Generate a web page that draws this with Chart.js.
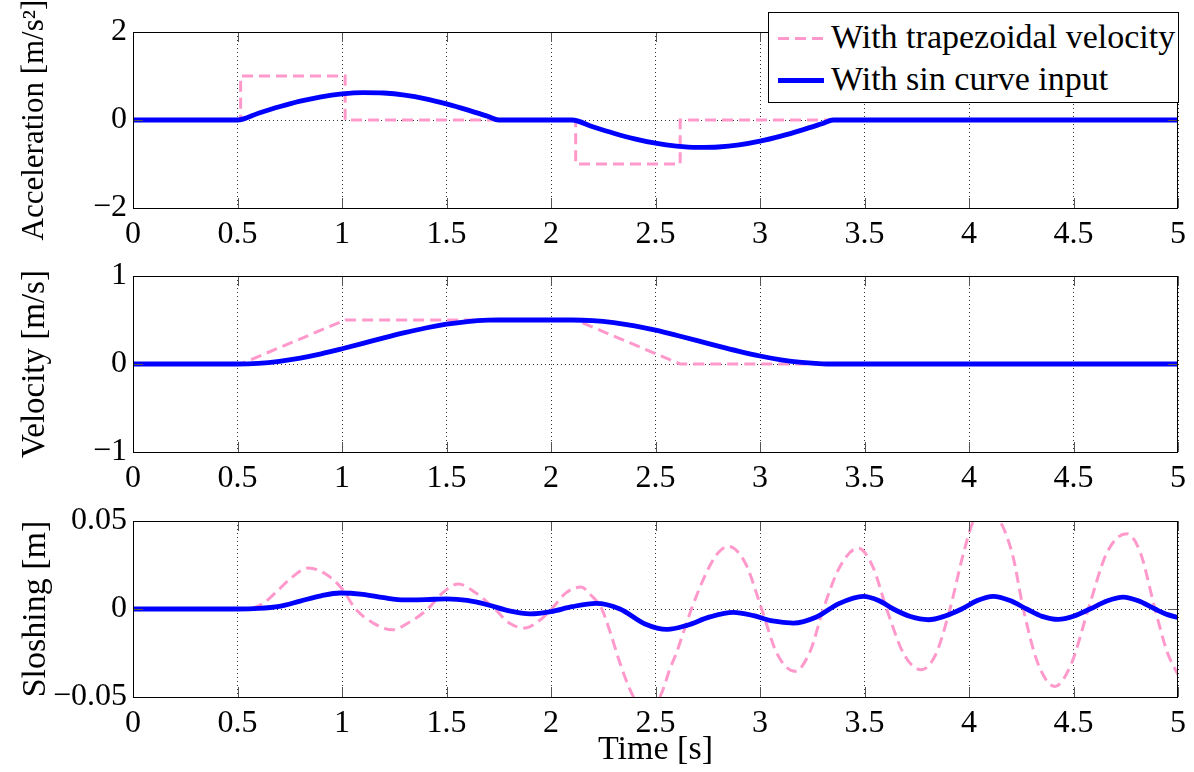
<!DOCTYPE html>
<html>
<head>
<meta charset="utf-8">
<script src="https://cdn.jsdelivr.net/npm/chart.js@4.4.0/dist/chart.umd.min.js"></script>
<style>
  html, body { margin: 0; padding: 0; background: #fff; }
  body { width: 1194px; height: 772px; position: relative; overflow: hidden; font-family: "Liberation Serif", "Times New Roman", serif; }
  .pane { position: absolute; left: 0; width: 1194px; }
  #legend { position: absolute; left: 768px; top: 12px; width: 409px; height: 89px; border: 1px solid #000; background: #fff; }
  .row { position: absolute; left: 0; height: 40px; line-height: 40px; font-size: 34px; color: #000; white-space: nowrap; }
  .txt { position: absolute; left: 62px; top: 0; }
  .dash { position: absolute; left: 9px; width: 46px; height: 3px; top: 20px;
          background: repeating-linear-gradient(to right, #ff99cc 0 11px, transparent 11px 17px); }
  .solid { position: absolute; left: 9px; width: 46px; height: 5px; top: 19px; background: #0000ff; }
</style>
</head>
<body>
<div class="pane" style="top:0px;height:250px"><canvas id="c1" width="1194" height="250"></canvas></div>
<div class="pane" style="top:244px;height:250px"><canvas id="c2" width="1194" height="250"></canvas></div>
<div class="pane" style="top:489px;height:283px"><canvas id="c3" width="1194" height="283"></canvas></div>
<div id="legend">
  <div class="row" style="top:4px;width:409px"><div class="dash"></div><span class="txt">With trapezoidal velocity</span></div>
  <div class="row" style="top:46px;width:409px"><div class="solid"></div><span class="txt">With sin curve input</span></div>
</div>
<script>
// ---------- data ----------
const seriesNames = ['With trapezoidal velocity', 'With sin curve input'];
const xTicks = [0, 0.5, 1, 1.5, 2, 2.5, 3, 3.5, 4, 4.5, 5];
const xTickLabels = ['0', '0.5', '1', '1.5', '2', '2.5', '3', '3.5', '4', '4.5', '5'];

const accTicks = [-2, 0, 2];
const accTickLabels = ['\u22122', '0', '2'];
const velTicks = [-1, 0, 1];
const velTickLabels = ['\u22121', '0', '1'];
const sloTicks = [-0.05, 0, 0.05];
const sloTickLabels = ['\u22120.05', '0', '0.05'];

// Acceleration
const accTrapT = [0, 0.515, 0.515, 1.015, 1.015, 2.118, 2.118, 2.618, 2.618, 5];
const accTrapV = [0, 0, 1, 1, 0, 0, -1, -1, 0, 0];
const accSinT = [0, 0.5, 0.6, 0.7, 0.8, 0.9, 1.0, 1.1, 1.2, 1.3, 1.4, 1.5, 1.6, 1.7, 1.75,
                 2.1, 2.2, 2.3, 2.4, 2.5, 2.6, 2.7, 2.8, 2.9, 3.0, 3.1, 3.2, 3.3, 3.35, 5];
const accSinV = [0, 0, 0.155, 0.301, 0.428, 0.528, 0.594, 0.624, 0.614, 0.566, 0.482, 0.367, 0.230, 0.078, 0,
                 0, -0.155, -0.301, -0.428, -0.528, -0.594, -0.624, -0.614, -0.566, -0.482, -0.367, -0.230, -0.078, 0, 0];

// Velocity
const velTrapT = [0, 0.515, 1.015, 2.118, 2.618, 5];
const velTrapV = [0, 0, 0.5, 0.5, 0, 0];
const velSinT = [0, 0.5, 0.6, 0.7, 0.8, 0.9, 1.0, 1.1, 1.2, 1.3, 1.4, 1.5, 1.6, 1.7, 1.75,
                 2.1, 2.2, 2.3, 2.4, 2.5, 2.6, 2.7, 2.8, 2.9, 3.0, 3.1, 3.2, 3.3, 3.35, 5];
const velSinV = [0, 0, 0.008, 0.031, 0.068, 0.116, 0.173, 0.234, 0.297, 0.356, 0.409, 0.452, 0.482, 0.498, 0.5,
                 0.5, 0.492, 0.469, 0.432, 0.384, 0.327, 0.266, 0.203, 0.144, 0.091, 0.048, 0.018, 0.002, 0, 0];

// Sloshing
const sloTrapT = [0, 0.5, 0.56, 0.62, 0.68, 0.76, 0.84, 0.92, 1.0, 1.065, 1.15, 1.24, 1.33, 1.41, 1.48, 1.557,
                  1.63, 1.732, 1.80, 1.876, 1.94, 2.003, 2.07, 2.143, 2.19, 2.243, 2.282, 2.33, 2.378, 2.42,
                  2.46, 2.50, 2.535, 2.569, 2.60, 2.64, 2.672, 2.745, 2.80, 2.848, 2.93, 3.008, 3.08, 3.167,
                  3.24, 3.303, 3.383, 3.47, 3.54, 3.606, 3.69, 3.772, 3.84, 3.909, 3.97, 4.021, 4.085, 4.148,
                  4.21, 4.26, 4.33, 4.411, 4.49, 4.571, 4.66, 4.754, 4.82, 4.89, 4.95, 5.0];
const sloTrapV = [0, 0, 0.0003, 0.003, 0.009, 0.018, 0.0233, 0.020, 0.0115, 0, -0.008, -0.0118, -0.007, 0, 0.009, 0.0142,
                  0.010, 0, -0.008, -0.0108, -0.007, 0, 0.009, 0.0125, 0.008, 0, -0.0127, -0.0307, -0.0458, -0.055,
                  -0.058, -0.055, -0.046, -0.034, -0.025, -0.011, 0, 0.021, 0.032, 0.0356, 0.026, 0, -0.025, -0.0354,
                  -0.024, 0, 0.0242, 0.0346, 0.024, 0, -0.026, -0.0345, -0.026, 0, 0.03, 0.05, 0.056, 0.05,
                  0.03, 0, -0.031, -0.044, -0.031, 0, 0.032, 0.0428, 0.032, 0, -0.025, -0.0373];
const sloSinT = [0, 0.5, 0.6, 0.7, 0.8, 0.9, 0.99, 1.1, 1.2, 1.3, 1.4, 1.5, 1.6, 1.7, 1.8, 1.9, 2.0, 2.1, 2.215,
                 2.33, 2.45, 2.556, 2.65, 2.76, 2.872, 2.97, 3.06, 3.16, 3.27, 3.38, 3.494, 3.57, 3.638, 3.72,
                 3.805, 3.885, 3.965, 4.04, 4.116, 4.196, 4.276, 4.35, 4.427, 4.50, 4.579, 4.66, 4.738, 4.81,
                 4.89, 4.95, 5.0];
const sloSinV = [0, 0, 0.0003, 0.0015, 0.0045, 0.0075, 0.0091, 0.0083, 0.0064, 0.0052, 0.0053, 0.0058, 0.0049, 0.0023,
                 -0.0011, -0.0028, -0.0015, 0.0013, 0.0032, 0, -0.0085, -0.0116, -0.0093, -0.0045, -0.0019, -0.0038,
                 -0.0068, -0.0080, -0.0045, 0.0032, 0.0072, 0.0047, 0, -0.0043, -0.0061, -0.0040, 0, 0.0048, 0.0072,
                 0.0048, 0, -0.0042, -0.0059, -0.0041, 0, 0.0046, 0.0068, 0.0047, 0, -0.0032, -0.0048];

// ---------- drawing ----------
const FONT = "'Liberation Serif', 'Times New Roman', serif";
const PINK = '#ff99cc';
const BLUE = '#0000ff';

function pts(T, V) { return T.map((t, i) => ({ x: t, y: V[i] })); }

const framePlugin = {
  id: 'frame',
  afterDatasetsDraw(chart, args, opts) {
    const { ctx, chartArea: a } = chart;
    const xs = chart.scales.x, ys = chart.scales.y;
    ctx.save();
    ctx.lineWidth = 1;
    ctx.strokeStyle = '#555';
    ctx.beginPath();
    xTicks.forEach(v => {
      const p = Math.round(xs.getPixelForValue(v)) + 0.5;
      ctx.moveTo(p, a.bottom); ctx.lineTo(p, a.bottom - 10);
      ctx.moveTo(p, a.top); ctx.lineTo(p, a.top + 10);
    });
    opts.yTicks.forEach(v => {
      const p = Math.round(ys.getPixelForValue(v)) + 0.5;
      ctx.moveTo(a.left, p); ctx.lineTo(a.left + 10, p);
      ctx.moveTo(a.right, p); ctx.lineTo(a.right - 10, p);
    });
    ctx.stroke();
    ctx.strokeStyle = '#000';
    ctx.strokeRect(a.left + 0.5, a.top + 0.5, a.right - a.left - 1, a.bottom - a.top);
    ctx.restore();
  }
};

function makeChart(id, trapT, trapV, sinT, sinV, yMin, yMax, yTicks, yTickLabels, yTitle, yTitleSize, showXTitle, trapSmooth) {
  const trapDs = {
    label: seriesNames[0], data: pts(trapT, trapV), order: 1,
    borderColor: PINK, borderWidth: 3, borderDash: [11, 6], pointRadius: 0,
    tension: 0, fill: false
  };
  if (trapSmooth) trapDs.cubicInterpolationMode = 'monotone';
  const sinDs = {
    label: seriesNames[1], data: pts(sinT, sinV), order: 0,
    borderColor: BLUE, borderWidth: 4.8, pointRadius: 0, tension: 0, fill: false,
    cubicInterpolationMode: 'monotone'
  };

  return new Chart(document.getElementById(id), {
    type: 'line',
    data: { datasets: [trapDs, sinDs] },
    options: {
      responsive: false,
      animation: false,
      devicePixelRatio: 1,
      layout: { padding: { top: 32, right: 16, left: 0, bottom: 0 } },
      plugins: {
        legend: { display: false },
        tooltip: { enabled: false },
        frame: { yTicks: yTicks }
      },
      scales: {
        x: {
          type: 'linear', min: 0, max: 5,
          afterBuildTicks: s => { s.ticks = xTicks.map(v => ({ value: v })); },
          afterFit: s => { s.height = showXTitle ? 75 : 42; },
          ticks: {
            autoSkip: false, maxRotation: 0, padding: 7, color: '#000',
            font: { family: FONT, size: 32 },
            callback: (v, i) => xTickLabels[i]
          },
          grid: { color: '#333', lineWidth: 1, drawTicks: false },
          border: { display: false, dash: [1, 3] },
          title: {
            display: showXTitle, text: 'Time [s]', color: '#000',
            font: { family: FONT, size: 34 }, padding: { top: 0, bottom: 2 }
          }
        },
        y: {
          type: 'linear', min: yMin, max: yMax,
          afterBuildTicks: s => { s.ticks = yTicks.map(v => ({ value: v })); },
          afterFit: s => { s.width = 133; },
          ticks: {
            autoSkip: false, padding: 6, color: '#000',
            font: { family: FONT, size: 32 },
            callback: (v, i) => yTickLabels[i]
          },
          grid: { color: '#333', lineWidth: 1, drawTicks: false },
          border: { display: false, dash: [1, 3] },
          title: {
            display: true, text: yTitle, color: '#000',
            font: { family: FONT, size: yTitleSize }, padding: { top: 16, bottom: 0 }
          }
        }
      }
    },
    plugins: [framePlugin]
  });
}

makeChart('c1', accTrapT, accTrapV, accSinT, accSinV, -2, 2, accTicks, accTickLabels, 'Acceleration [m/s\u00b2]', 31, false, false);
makeChart('c2', velTrapT, velTrapV, velSinT, velSinV, -1, 1, velTicks, velTickLabels, 'Velocity [m/s]', 33, false, false);
makeChart('c3', sloTrapT, sloTrapV, sloSinT, sloSinV, -0.05, 0.05, sloTicks, sloTickLabels, 'Sloshing [m]', 34, true, true);
</script>
</body>
</html>
